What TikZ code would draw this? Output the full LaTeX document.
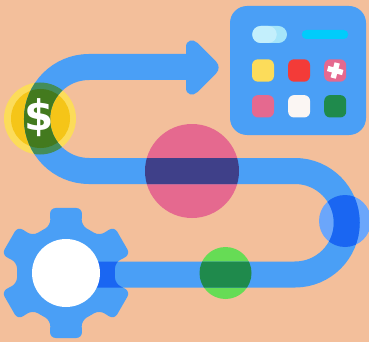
\documentclass[tikz,border=0pt]{standalone}
\usepackage{fontspec}
\setmainfont{Liberation Sans}
\newfontfamily\dollarfont{DejaVu Sans}
\usepackage{xcolor}
\usetikzlibrary{positioning}
\definecolor{skin}{HTML}{F3BF9B}
\definecolor{routeblue}{HTML}{4A9FF6}
\definecolor{deepblue}{HTML}{1A66F2}
\definecolor{softblue}{HTML}{6BA6FB}
\definecolor{sunlight}{HTML}{FCDC5A}
\definecolor{sundark}{HTML}{F5C518}
\definecolor{mossdark}{HTML}{437A1E}
\definecolor{mosslight}{HTML}{448D5A}
\definecolor{rose}{HTML}{E5698F}
\definecolor{indigo}{HTML}{3F4089}
\definecolor{lime}{HTML}{66DC55}
\definecolor{pine}{HTML}{1F8A4C}
\definecolor{crimson}{HTML}{F33B38}
\definecolor{paper}{HTML}{FBF6F3}
\definecolor{pillback}{HTML}{A5E5FA}
\definecolor{pillfront}{HTML}{C3EFFC}
\definecolor{cyanbar}{HTML}{00CCFB}
\tikzset{
  spot/.style={circle,inner sep=0pt,outer sep=0pt,minimum size=#1},
  appkey/.style={rectangle,rounded corners=6pt,inner sep=0pt,minimum width=22pt,minimum height=22.4pt},
  pill/.style={rectangle,rounded corners=#1,inner sep=0pt},
  route/.style={line width=26pt,line cap=butt}
}
\newcommand{\routepath}{(66,274.5) -- (295,274.5) arc[start angle=90,end angle=-90,radius=51.75] -- (89,171) arc[start angle=90,end angle=270,radius=52] -- (190,67)}
\newcommand{\gearlobe}[1]{-- (#1+14:67) -- (#1+18:50) -- (#1+42:50) -- (#1+46:67)}
\newcommand{\gearoutline}{(90:65) \gearlobe{90} \gearlobe{150} \gearlobe{210} \gearlobe{270} \gearlobe{330} \gearlobe{390} -- cycle}
\begin{document}
\begin{tikzpicture}[x=1pt,y=-1pt]
  \useasboundingbox (0,0) rectangle (369,342);
  \clip (0,0) rectangle (369,342);
  \fill[skin] (0,0) rectangle (369,342);

  \node[spot=72pt,fill=sunlight] (coinrim) at (40,118.5) {};
  \node[spot=59pt,fill=sundark] (coin) at (40.5,118.5) {};
  \node[spot=94pt,fill=rose] (bigspot) at (192,171) {};
  \node[spot=52pt,fill=lime] (greenspot) at (225.5,273) {};
  \node[spot=52pt,fill=softblue] (bluespot) at (345,221) {};

  \draw[route,routeblue] \routepath;
  \fill[routeblue] (186,47) .. controls (186,40) and (193,38.5) .. (197.5,43) -- (216,61.5) .. controls (219.5,65) and (219.5,70) .. (216,73.5) -- (197.5,92) .. controls (193,96.5) and (186,95) .. (186,88) -- cycle;

  \begin{scope}
    \clip (coinrim.center) circle (36);
    \draw[route,mosslight] \routepath;
    \clip (coin.center) circle (29.5);
    \draw[route,mossdark] \routepath;
  \end{scope}
  \begin{scope}
    \clip (bigspot.center) circle (47);
    \draw[route,indigo] \routepath;
  \end{scope}
  \begin{scope}
    \clip (greenspot.center) circle (26);
    \draw[route,pine] \routepath;
  \end{scope}
  \begin{scope}
    \clip (bluespot.center) circle (26);
    \draw[route,deepblue] \routepath;
  \end{scope}

  \node[text=white,font=\dollarfont\bfseries\fontsize{42}{42}\selectfont,inner sep=0pt] (dollar) at (39,117.5) {\$};

  \fill[routeblue,rounded corners=6pt,shift={(66,273)}] \gearoutline;
  \begin{scope}
    \clip[rounded corners=6pt,shift={(66,273)}] \gearoutline;
    \draw[route,deepblue] \routepath;
  \end{scope}
  \node[spot=68pt,fill=white] (hub) at (66,273) {};

  \node[rectangle,rounded corners=17pt,fill=routeblue,inner sep=0pt,minimum width=136pt,minimum height=129pt] (panel) at (298,70.5) {};
  \node[pill=8.5pt,fill=pillback,minimum width=34.7pt,minimum height=17pt] (toggle) at (269.6,34.5) {};
  \node[pill=8.5pt,fill=pillfront,minimum width=24.5pt,minimum height=17pt,anchor=west] (knob) at (toggle.west) {};
  \node[pill=4.5pt,fill=cyanbar,minimum width=46.5pt,minimum height=9pt] (bar) at (325,34.5) {};
  \node[appkey,fill=sunlight] (keyA) at (263,70.5) {};
  \node[appkey,fill=crimson,right=13.7pt of keyA] (keyB) {};
  \node[appkey,fill=rose,right=13.7pt of keyB] (keyC) {};
  \node[appkey,fill=rose,below=13pt of keyA] (keyD) {};
  \node[appkey,fill=paper,below=13pt of keyB] (keyE) {};
  \node[appkey,fill=pine,below=13pt of keyC] (keyF) {};
  \fill[white,rotate around={-15:(keyC.center)}] ([xshift=-7.8pt,yshift=-2.7pt]keyC.center) rectangle ([xshift=7.8pt,yshift=2.7pt]keyC.center);
  \fill[white,rotate around={-15:(keyC.center)}] ([xshift=-2.7pt,yshift=-7.8pt]keyC.center) rectangle ([xshift=2.7pt,yshift=7.8pt]keyC.center);
\end{tikzpicture}
\end{document}
